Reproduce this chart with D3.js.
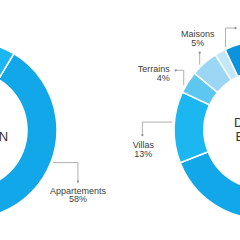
<!DOCTYPE html>
<html>
<head>
<meta charset="utf-8">
<script src="https://cdn.jsdelivr.net/npm/d3@7"></script>
<style>
  html, body { margin: 0; padding: 0; background: #fff; }
  svg { display: block; }
  .seg-label { font-family: "Liberation Sans", Arial, sans-serif; font-size: 9px; fill: #3d3d3d; }
  .center-label { font-family: "Liberation Sans", Arial, sans-serif; font-size: 13px; fill: #333; }
</style>
</head>
<body>
<div id="container"></div>
<script>
//-----------------------------DATA-----------------------------//
const categoriesLeft = ["Appartements", "Terrains", "Maisons", "Bureaux", "Villas"];
const valuesLeft = [58, 6, 9, 3, 24];
const titleLeft = ["VENTES", "DE L'ANCIEN"];

const categoriesRight = ["Appartements", "Villas", "Terrains", "Maisons", "Bureaux", "Autres"];
const valuesRight = [69, 13, 4, 5, 2, 7];
const titleRight = ["DU NEUF", "EN VEFA"];

//------------------------1. PREPARATION------------------------//
var width = 240;
var height = 240;
const outerR = 89;
const innerR = 59;

const color = d3.scaleOrdinal()
    .domain(["Appartements", "Villas", "Terrains", "Maisons", "Bureaux", "Autres"])
    .range(["#12a7e8", "#1cb7f0", "#5cc7f1", "#9bd7f5", "#c2e7f9", "#0a94dc"]);

// leader lines: angle on the ring (deg), elbow steps, text offset from the dot
const leadersLeft = {
    "Appartements": {angle: 111, steps: [[25, 0], [0, 19]], anchor: "middle", dx: 0, dy: 12}
};
const leadersRight = {
    "Villas": {angle: 275, steps: [[-30, 0], [0, 13]], anchor: "middle", dx: 1, dy: 13},
    "Terrains": {angle: 299.4, steps: [[0, -15], [-8, 0]], anchor: "end", dx: -6, dy: 2},
    "Maisons": {angle: 315.9, steps: [[0, -12]], anchor: "middle", dx: -2, dy: -15.5},
    "Bureaux": {angle: 335.7, steps: [[0, -19], [10, 0]], anchor: "start", dx: 6, dy: 2}
};

const svg = d3.select("div#container").append("svg")
    .attr("width", width)
    .attr("height", height);

const arc = d3.arc()
    .innerRadius(innerR)
    .outerRadius(outerR);

function drawDonut(cx, cy, cats, vals, start, title, leaders) {
    var g = svg.append("g").attr("transform", "translate(" + cx + "," + cy + ")");
    var pie = d3.pie().sort(null)
        .startAngle(start * Math.PI / 180)
        .endAngle(start * Math.PI / 180 + 2 * Math.PI);
    var data = cats.map(function (c, i) { return {key: c, value: vals[i]}; });

    g.selectAll("path.seg")
        .data(pie.value(function (d) { return d.value; })(data))
        .enter()
        .append("path")
        .attr("class", "seg")
        .attr("d", arc)
        .attr("fill", function (d) { return color(d.data.key); })
        .attr("stroke", "#fff")
        .attr("stroke-width", 1.5);

    // center title
    var t = g.append("text")
        .attr("class", "center-label")
        .attr("text-anchor", "middle");
    title.forEach(function (line, i) {
        t.append("tspan").attr("x", 0).attr("y", -3 + i * 14).text(line);
    });

    // leaders + labels
    data.forEach(function (d) {
        var l = leaders[d.key];
        if (!l) return;
        var a = l.angle * Math.PI / 180;
        var pts = [[(outerR + 2) * Math.sin(a), -(outerR + 2) * Math.cos(a)]];
        l.steps.forEach(function (s) {
            var p = pts[pts.length - 1];
            pts.push([p[0] + s[0], p[1] + s[1]]);
        });
        var end = pts[pts.length - 1];
        g.append("path")
            .attr("d", d3.line()(pts))
            .attr("fill", "none")
            .attr("stroke", "#9a9a9a")
            .attr("stroke-width", 0.8);
        g.append("circle")
            .attr("cx", end[0]).attr("cy", end[1])
            .attr("r", 1.1)
            .attr("fill", "#8a8a8a");
        var lab = g.append("text")
            .attr("class", "seg-label")
            .attr("text-anchor", l.anchor);
        lab.append("tspan").attr("x", end[0] + l.dx).attr("y", end[1] + l.dy).text(d.key);
        lab.append("tspan").attr("x", end[0] + l.dx).attr("y", end[1] + l.dy + 8.7).text(d.value + "%");
    });
}

//-------------------------2. DRAWING---------------------------//
drawDonut(-32, 130, categoriesLeft, valuesLeft, 31, titleLeft, leadersLeft);
drawDonut(263, 130, categoriesRight, valuesRight, 0, titleRight, leadersRight);
</script>
</body>
</html>
